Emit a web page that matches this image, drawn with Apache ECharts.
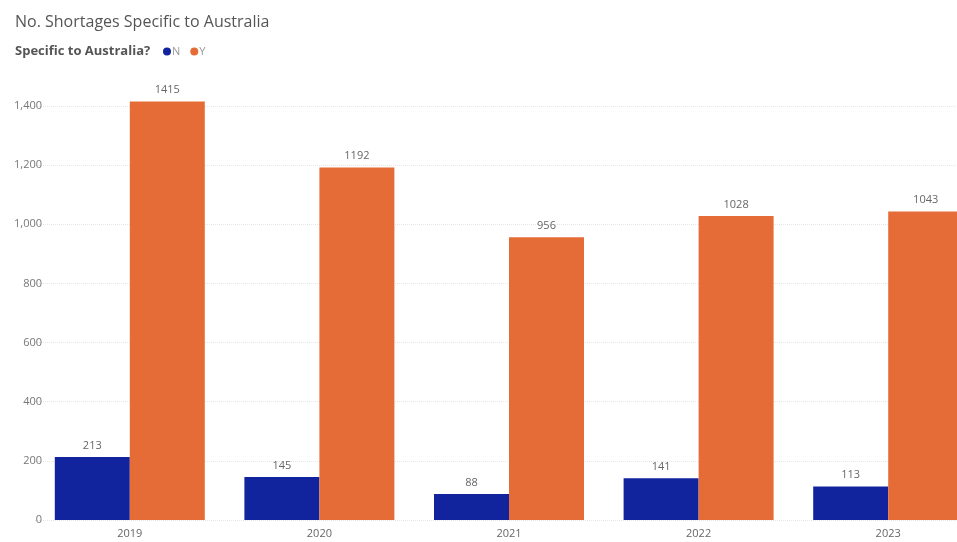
<!DOCTYPE html>
<html>
<head>
<meta charset="utf-8">
<script src="https://cdn.jsdelivr.net/npm/echarts@6/dist/echarts.min.js"></script>
<style>
html,body{margin:0;padding:0;background:#fff;}
#c{width:957px;height:542px;}
</style>
</head>
<body>
<div id="c"></div>
<script>
const categories = ['2019', '2020', '2021', '2022', '2023'];
const seriesN = [213, 145, 88, 141, 113];
const seriesY = [1415, 1192, 956, 1028, 1043];
const yTicks = { min: 0, max: 1400, interval: 200 };

const FONT = '"Open Sans", "Noto Sans", sans-serif';
const chart = echarts.init(document.getElementById('c'), null, { renderer: 'canvas' });
const labelStyle = { show: true, position: 'top', color: '#666', fontSize: 11, fontFamily: FONT, distance: 6 };

chart.setOption({
  animation: false,
  textStyle: { fontFamily: FONT },
  title: [
    { text: 'No. Shortages Specific to Australia', left: 10, top: 9,
      textStyle: { fontSize: 16, fontWeight: 'normal', color: '#555', fontFamily: FONT } },
    { text: 'Specific to Australia?', left: 10, top: 40,
      textStyle: { fontSize: 13, fontWeight: 'bold', color: '#555', fontFamily: FONT } }
  ],
  legend: {
    left: 158, top: 41, itemWidth: 8, itemHeight: 8, itemGap: 10, icon: 'circle',
    textStyle: { fontSize: 11, color: '#999', fontFamily: FONT, padding: [0, 0, 0, -4] },
    data: ['N', 'Y']
  },
  grid: { left: 35, top: 106, width: 948, bottom: 22, outerBoundsMode: 'none', containLabel: false },
  xAxis: {
    type: 'category', data: categories,
    axisLine: { show: false }, axisTick: { show: false },
    axisLabel: { color: '#666', fontSize: 11, margin: 8, fontFamily: FONT }
  },
  yAxis: {
    type: 'value', min: yTicks.min, max: yTicks.max, interval: yTicks.interval,
    axisLine: { show: false }, axisTick: { show: false },
    axisLabel: { color: '#777', fontSize: 11, margin: -7, fontFamily: FONT,
      formatter: v => v.toLocaleString('en-US') },
    splitLine: { lineStyle: { color: '#e6e6e6', type: 'dotted', width: 1 } }
  },
  series: [
    { name: 'N', type: 'bar', data: seriesN, barWidth: 75, barGap: '0%', clip: false,
      itemStyle: { color: '#12239E' }, label: labelStyle },
    { name: 'Y', type: 'bar', data: seriesY, barWidth: 75, barGap: '0%', clip: false,
      itemStyle: { color: '#E66C37' }, label: labelStyle }
  ]
});
</script>
</body>
</html>
